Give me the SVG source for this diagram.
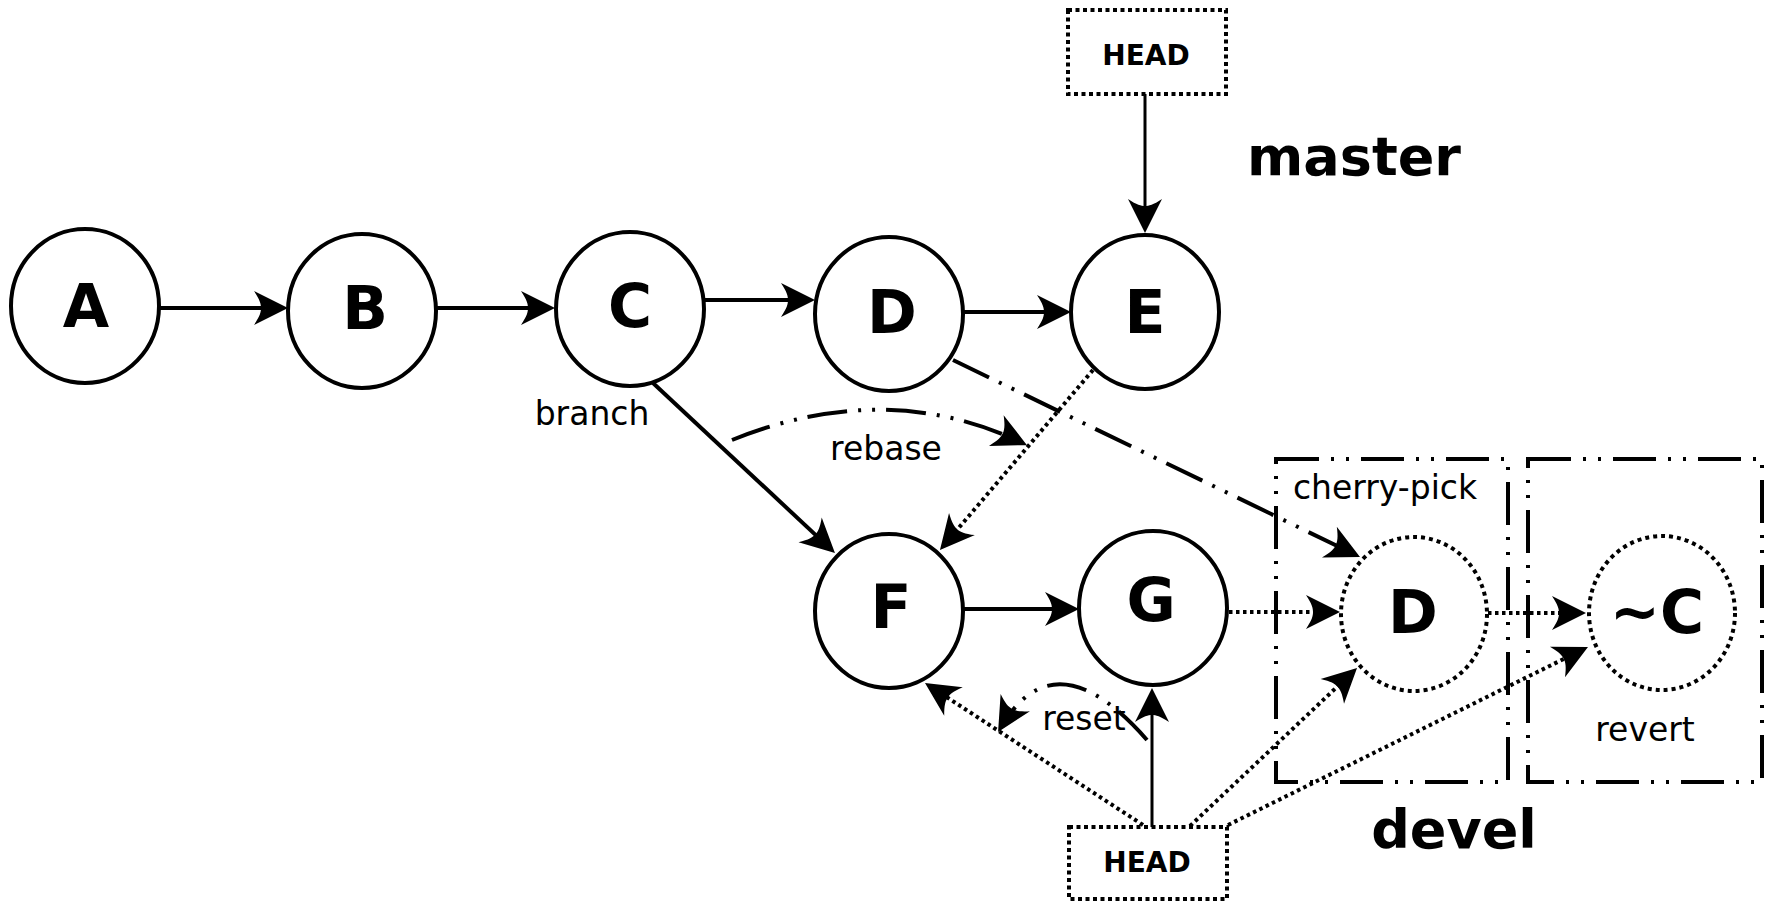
<svg xmlns="http://www.w3.org/2000/svg" width="1767" height="903" viewBox="0 0 1767 903">
<style>
.bg{fill:#ffffff}
.node{fill:#ffffff;stroke:#000;stroke-width:4}
.ghost{fill:none;stroke:#000;stroke-width:4;stroke-dasharray:4 4}
.box{fill:#ffffff;stroke:#000;stroke-width:4;stroke-dasharray:4 3.5}
.frame{fill:none;stroke:#000;stroke-width:4;stroke-dasharray:43 12 3 12 3 12}
.solid{fill:none;stroke:#000;stroke-width:4;marker-end:url(#ah)}
.thin{fill:none;stroke:#000;stroke-width:3;marker-end:url(#ah)}
.dot{fill:none;stroke:#000;stroke-width:4;stroke-dasharray:3.5 3.5;marker-end:url(#ah)}
.dd{fill:none;stroke:#000;stroke-width:4;stroke-dasharray:40 11 3 11 3 11;marker-end:url(#ah)}
.big{font-family:"DejaVu Sans","Liberation Sans",sans-serif;font-weight:bold;font-size:60px;text-anchor:middle;fill:#000}
.lbl{font-family:"DejaVu Sans","Liberation Sans",sans-serif;font-size:33px;text-anchor:middle;fill:#000}
.br{font-family:"DejaVu Sans","Liberation Sans",sans-serif;font-weight:bold;font-size:54px;text-anchor:middle;fill:#000}
.hd{font-family:"DejaVu Sans","Liberation Sans",sans-serif;font-weight:bold;font-size:28px;text-anchor:middle;fill:#000}
</style>
<defs>
<marker id="ah" viewBox="-36 -20 42 40" refX="-5" refY="0" markerWidth="42" markerHeight="40" markerUnits="userSpaceOnUse" orient="auto">
<path d="M0,0 L-34,-17 C-28,-8 -27,-4 -27,0 C-27,4 -28,8 -34,17 Z" fill="#000"/>
</marker>
</defs>
<rect class="bg" x="0" y="0" width="1767" height="903"/>

<g id="cherry-pick-box">
<rect class="frame" x="1276" y="459" width="232" height="323"/>
<text class="lbl" x="1385" y="499">cherry-pick</text>
</g>
<g id="revert-box">
<rect class="frame" x="1528" y="459" width="234" height="323"/>
<text class="lbl" x="1645" y="741">revert</text>
</g>

<g id="connectors">
<line class="solid" x1="159" y1="308" x2="283" y2="308"/>
<line class="solid" x1="437" y1="308" x2="550" y2="308"/>
<line class="solid" x1="703" y1="300" x2="810" y2="300"/>
<line class="solid" x1="963" y1="312" x2="1066" y2="312"/>
<line class="thin" x1="1145" y1="94" x2="1145" y2="228"/>
<line class="solid" x1="653" y1="383" x2="831.3" y2="549.6"/>
<line class="solid" x1="964" y1="609" x2="1074" y2="609"/>
<line class="dot" x1="1093" y1="370" x2="943.2" y2="546.2"/>
<line class="dd" x1="953" y1="360" x2="1355.5" y2="554.8"/>
<path class="dd" d="M732,440 Q886,378 1022.5,443"/>
<line class="dot" x1="1229" y1="612" x2="1335" y2="612"/>
<line class="dot" x1="1488" y1="613" x2="1581" y2="613"/>
<line class="thin" x1="1152" y1="827" x2="1152" y2="693"/>
<line class="dot" x1="1143" y1="825" x2="929.2" y2="685.7"/>
<line class="dot" x1="1190" y1="826" x2="1353.4" y2="671.4"/>
<line class="dot" x1="1228" y1="825" x2="1583.5" y2="649.2"/>
<path class="dd" d="M1147,740 Q1055,635 1000.6,727.7"/>
</g>

<g id="label-branch"><text class="lbl" x="592" y="425">branch</text></g>
<g id="label-rebase"><text class="lbl" x="886" y="460">rebase</text></g>
<g id="label-reset"><text class="lbl" x="1084" y="730">reset</text></g>
<g id="label-master"><text class="br" x="1354" y="175">master</text></g>
<g id="label-devel"><text class="br" x="1454" y="848">devel</text></g>

<g id="head-master">
<rect class="box" x="1068" y="10" width="158" height="84"/>
<text class="hd" x="1146" y="65">HEAD</text>
</g>
<g id="head-devel">
<rect class="box" x="1069" y="827" width="158" height="72"/>
<text class="hd" x="1147" y="872">HEAD</text>
</g>

<g id="node-A"><ellipse class="node" cx="85" cy="306" rx="74" ry="77"/><text class="big" x="86" y="327">A</text></g>
<g id="node-B"><ellipse class="node" cx="362" cy="311" rx="74" ry="77"/><text class="big" x="365" y="329">B</text></g>
<g id="node-C"><ellipse class="node" cx="630" cy="309" rx="74" ry="77"/><text class="big" x="630" y="327">C</text></g>
<g id="node-D"><ellipse class="node" cx="889" cy="314" rx="74" ry="77"/><text class="big" x="892" y="333">D</text></g>
<g id="node-E"><ellipse class="node" cx="1145" cy="312" rx="74" ry="77"/><text class="big" x="1145" y="333">E</text></g>
<g id="node-F"><ellipse class="node" cx="889" cy="611" rx="74" ry="77"/><text class="big" x="891" y="628">F</text></g>
<g id="node-G"><ellipse class="node" cx="1153" cy="608" rx="74" ry="77"/><text class="big" x="1151" y="621">G</text></g>
<g id="node-D-pick"><ellipse class="ghost" cx="1414" cy="614" rx="73" ry="77"/><text class="big" x="1413" y="633">D</text></g>
<g id="node-notC"><ellipse class="ghost" cx="1662" cy="613" rx="73" ry="77"/><text class="big" x="1657" y="633">~C</text></g>
</svg>
